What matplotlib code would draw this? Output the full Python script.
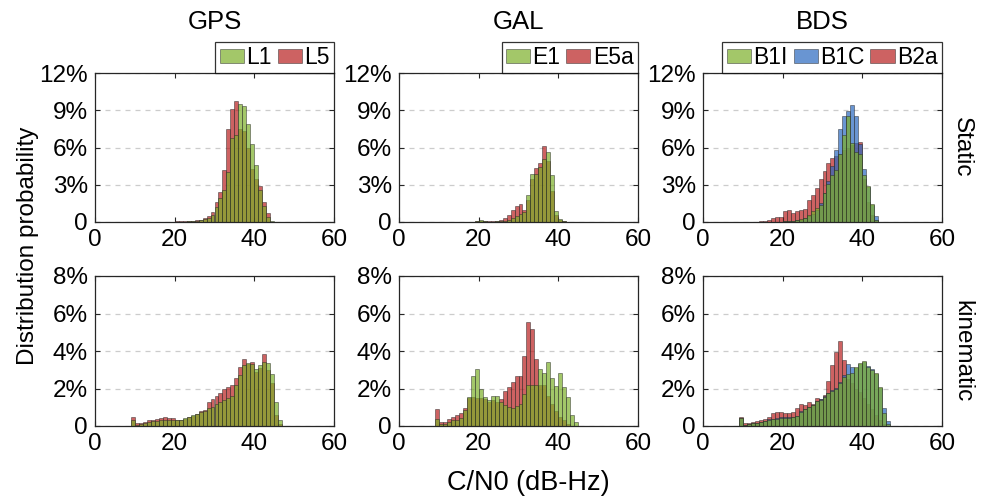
import numpy as np
import matplotlib
matplotlib.use("Agg")
import matplotlib.pyplot as plt

plt.rcParams['font.family'] = ['Liberation Sans', 'DejaVu Sans']

# ---- data: histogram bar heights (%) with 1 dB-Hz bins, first bin given by *_start ----
# GPS static
gps_s_start = 20
gps_s_L5 = [0.05, 0.05, 0.05, 0.06, 0.08, 0.13, 0.2, 0.3, 0.5, 0.8, 1.6, 2.4, 4.2, 7.5,
            9.1, 9.75, 7.5, 7.3, 6.0, 4.3, 3.5, 2.9, 1.6, 0.7]
gps_s_L1 = [0.03, 0.03, 0.04, 0.05, 0.06, 0.1, 0.15, 0.22, 0.35, 0.55, 1.2, 1.9, 2.6, 4.0,
            6.8, 7.0, 9.5, 9.35, 7.9, 6.3, 4.6, 2.6, 1.3, 0.4, 0.05]
# GAL static
gal_s_start = 19
gal_s_E5a = [0.05, 0.1, 0.05, 0.05, 0.05, 0.08, 0.15, 0.3, 0.55, 0.95, 1.25, 1.45, 0.95,
             1.8, 3.5, 4.35, 4.75, 6.1, 4.9, 2.5, 0.6, 0.15, 0.05]
gal_s_E1 = [0.05, 0.15, 0.05, 0.03, 0.03, 0.05, 0.08, 0.12, 0.2, 0.3, 0.45, 0.65, 0.8,
            2.2, 3.9, 3.9, 4.4, 5.1, 5.6, 3.75, 0.9, 0.25, 0.05]
# BDS static
bds_s_start = 13
bds_s_B2a = [0.03, 0.05, 0.08, 0.2, 0.3, 0.43, 0.43, 0.86, 0.94, 0.75, 0.86, 0.96, 1.07,
             1.77, 2.17, 2.7, 3.5, 4.1, 4.77, 5.17, 5.3, 5.5, 5.8, 6.0, 6.2, 6.4, 6.45,
             3.5, 1.6, 0.6, 0.15]
bds_s_B1C = [0, 0, 0, 0, 0, 0, 0, 0.05, 0.08, 0.1, 0.15, 0.2, 0.3, 0.45, 0.65, 1.0, 1.5,
             2.3, 3.3, 4.5, 5.8, 7.5, 8.5, 8.9, 9.45, 8.5, 6.3, 4.3, 2.8, 1.4, 0.45]
bds_s_B1I = [0, 0, 0, 0, 0, 0, 0, 0.05, 0.08, 0.1, 0.15, 0.25, 0.35, 0.55, 0.85, 1.1, 1.4,
             2.3, 3.1, 3.8, 4.2, 5.5, 7.0, 8.5, 6.4, 5.6, 5.5, 3.8, 2.9, 1.45, 0.2]
# GPS kinematic
gps_k_start = 9
gps_k_L5 = [0.5, 0.14, 0.14, 0.21, 0.3, 0.3, 0.37, 0.41, 0.46, 0.44, 0.41, 0.34, 0.32, 0.38,
            0.48, 0.55, 0.64, 0.78, 0.85, 1.3, 1.44, 1.6, 1.78, 1.97, 2.06, 2.19, 2.54, 3.13,
            3.6, 3.3, 3.41, 2.9, 3.1, 3.82, 3.0, 2.3, 0.6, 0.1]
gps_k_L1 = [0.32, 0.07, 0.1, 0.15, 0.2, 0.25, 0.28, 0.3, 0.32, 0.33, 0.33, 0.3, 0.3, 0.42,
            0.5, 0.57, 0.66, 0.76, 0.8, 0.95, 1.0, 1.15, 1.3, 1.4, 1.5, 1.6, 2.2, 2.7,
            3.25, 3.34, 3.3, 3.04, 3.25, 3.4, 3.34, 2.8, 1.3, 0.32]
# GAL kinematic
gal_k_start = 9
gal_k_E5a = [0.92, 0.21, 0.21, 0.37, 0.5, 0.59, 0.69, 0.98, 1.5, 1.55, 1.5, 1.5, 1.45, 1.3,
             1.4, 1.3, 1.44, 1.85, 2.06, 2.33, 2.65, 2.65, 3.72, 5.55, 5.16, 3.55, 2.2, 2.2,
             1.6, 1.2, 0.8, 0.5, 0.3, 0.1]
gal_k_E1 = [0.36, 0.12, 0.12, 0.2, 0.3, 0.33, 0.45, 0.85, 1.56, 2.65, 3.02, 2.0, 1.56, 1.39,
            1.58, 1.58, 1.3, 1.1, 1.0, 0.95, 1.05, 1.2, 1.7, 2.2, 2.2, 2.2, 3.06, 2.84,
            3.43, 2.54, 2.13, 2.84, 2.06, 1.56, 0.59, 0.23]
# BDS kinematic
bds_k_start = 9
bds_k_B2a = [0.5, 0.14, 0.16, 0.21, 0.25, 0.3, 0.36, 0.46, 0.68, 0.73, 0.73, 0.69, 0.68, 0.73,
             0.94, 1.17, 1.1, 1.3, 1.19, 1.48, 1.42, 1.64, 2.38, 3.24, 3.95, 4.52, 3.52, 2.5,
             2.3, 2.0, 1.8, 1.5, 1.2, 0.9, 0.6, 0.3, 0.1]
bds_k_B1C = [0.45, 0.08, 0.1, 0.15, 0.18, 0.22, 0.28, 0.35, 0.4, 0.45, 0.46, 0.47, 0.47, 0.5,
             0.55, 0.8, 0.92, 1.02, 1.12, 1.36, 1.42, 1.58, 1.78, 1.9, 2.05, 2.35, 2.7, 3.29,
             3.13, 3.1, 3.3, 3.4, 3.2, 3.02, 2.8, 2.05, 0.94, 0.28]
bds_k_B1I = [0.41, 0.07, 0.1, 0.15, 0.17, 0.2, 0.25, 0.3, 0.35, 0.4, 0.42, 0.45, 0.45, 0.48,
             0.52, 0.75, 0.9, 1.0, 1.1, 1.35, 1.4, 1.55, 1.75, 1.85, 2.0, 2.3, 2.63, 2.8,
             2.85, 3.13, 3.38, 3.45, 3.16, 2.98, 2.84, 2.1, 0.7, 0.1]

systems = ['GPS', 'GAL', 'BDS']
rows = ['Static', 'kinematic']
static_yticks = [0, 3, 6, 9, 12]
kin_yticks = [0, 2, 4, 6, 8]
xticks = [0, 20, 40, 60]

c_green = (0.49, 0.69, 0.16, 0.7)
c_red = (0.72, 0.12, 0.12, 0.7)
c_blue = (0.16, 0.41, 0.75, 0.7)

# (label, start bin, heights, colour) in drawing order (bottom first)
panels = [
    [('L5', gps_s_start, gps_s_L5, c_red), ('L1', gps_s_start, gps_s_L1, c_green)],
    [('E5a', gal_s_start, gal_s_E5a, c_red), ('E1', gal_s_start, gal_s_E1, c_green)],
    [('B2a', bds_s_start, bds_s_B2a, c_red), ('B1C', bds_s_start, bds_s_B1C, c_blue),
     ('B1I', bds_s_start, bds_s_B1I, c_green)],
    [('L5', gps_k_start, gps_k_L5, c_red), ('L1', gps_k_start, gps_k_L1, c_green)],
    [('E5a', gal_k_start, gal_k_E5a, c_red), ('E1', gal_k_start, gal_k_E1, c_green)],
    [('B2a', bds_k_start, bds_k_B2a, c_red), ('B1C', bds_k_start, bds_k_B1C, c_blue),
     ('B1I', bds_k_start, bds_k_B1I, c_green)],
]

fig = plt.figure(figsize=(9.84, 4.97), dpi=100)
W, H = 984, 497
lefts = [95, 399, 703]
tops = [73, 276]
bottoms = [222, 426]
aw = 239

spine_c = (0.15, 0.15, 0.15)
for k, series in enumerate(panels):
    r, c = divmod(k, 3)
    ax = fig.add_axes([lefts[c] / W, 1 - bottoms[r] / H, aw / W, (bottoms[r] - tops[r]) / H])
    handles = {}
    for name, start, vals, col in series:
        x = start + np.arange(len(vals))
        b = ax.bar(x, vals, width=1, align='edge', facecolor=col,
                   edgecolor=(0.15, 0.15, 0.15, 0.55), linewidth=0.6)
        handles[name] = b
    ax.set_xlim(0, 60)
    ax.set_xticks(xticks)
    if r == 0:
        ax.set_ylim(0, 12)
        yt = static_yticks
    else:
        ax.set_ylim(0, 8)
        yt = kin_yticks
    ax.set_yticks(yt)
    ax.set_yticklabels(['0'] + ['%d%%' % v for v in yt[1:]])
    ax.yaxis.grid(True, linestyle=(0, (4, 4)), color=(0.8, 0.8, 0.8), linewidth=0.9)
    ax.set_axisbelow(True)
    ax.tick_params(direction='in', top=True, right=True, length=3.5, width=0.8,
                   labelsize=17.5, pad=5, colors=spine_c)
    ax.tick_params(labelcolor='black')
    for s in ax.spines.values():
        s.set_color(spine_c)
        s.set_linewidth(0.9)

    if r == 0:
        names = [s[0] for s in series][::-1]
        if len(names) == 3:
            names = ['B1I', 'B1C', 'B2a']
        leg = ax.legend([handles[n] for n in names], names, loc='lower right',
                        bbox_to_anchor=(1.0, 1.0), borderaxespad=0, ncol=len(names),
                        fontsize=16.5, frameon=True, fancybox=False, handlelength=1.05,
                        handleheight=0.6, handletextpad=0.12, columnspacing=0.25,
                        borderpad=0.18, edgecolor='black')
        leg.get_frame().set_linewidth(0.9)
        fig.text((lefts[c] + aw / 2) / W, 1 - 22 / H, systems[c], ha='center', va='center',
                 fontsize=18.5)
    if c == 2:
        ax.text(1.085, 0.5, rows[r], transform=ax.transAxes, rotation=-90,
                ha='center', va='center', fontsize=17.5)

fig.text(28 / W, 1 - 246 / H, 'Distribution probability', rotation=90, ha='center',
         va='center', fontsize=17.5)
fig.text(528 / W, 1 - 483 / H, 'C/N0 (dB-Hz)', ha='center', va='center', fontsize=19.5)

fig.savefig('out.png', dpi=100)
